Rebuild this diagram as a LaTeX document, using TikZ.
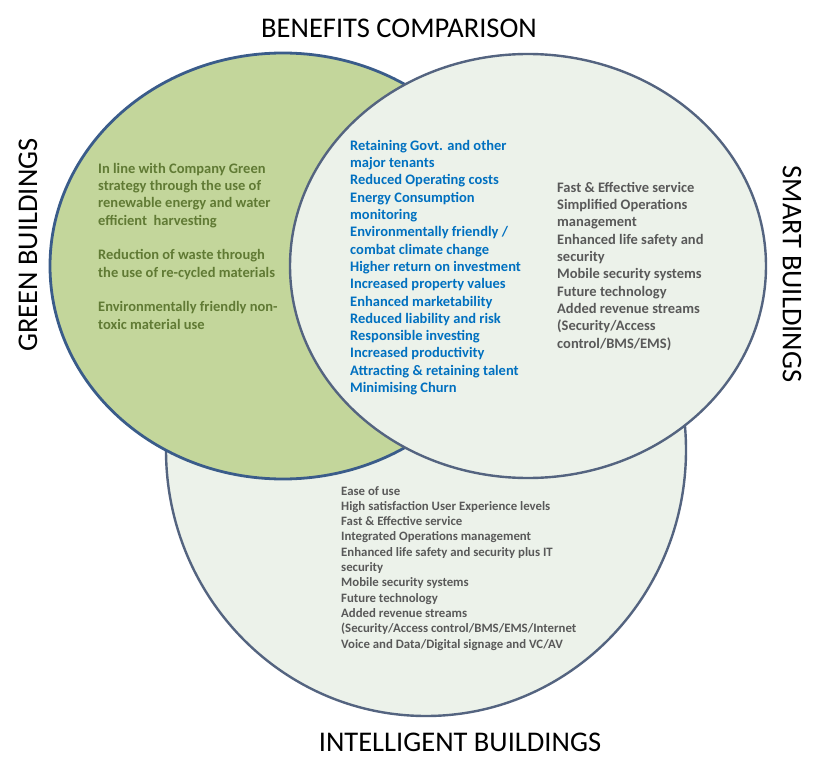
\documentclass[tikz,border=0pt]{standalone}
\usepackage{fontspec}
\setmainfont{Carlito}
\definecolor{greenfill}{RGB}{195,214,155}
\definecolor{palefill}{RGB}{236,242,234}
\definecolor{rimA}{RGB}{58,92,138}
\definecolor{rimB}{RGB}{84,100,128}
\definecolor{olivetext}{RGB}{96,122,52}
\definecolor{bluetext}{RGB}{0,112,192}
\definecolor{greytext}{RGB}{89,89,89}
\tikzset{
  title/.style={font=\fontsize{28.5}{31}\selectfont, text=black, inner sep=0pt},
  bodytext/.style={font=\fontsize{14.5}{17.3}\selectfont\bfseries, align=left, anchor=north west, inner sep=0pt},
  smalltext/.style={font=\fontsize{12.8}{15.3}\selectfont\bfseries, align=left, anchor=north west, inner sep=0pt},
}
\begin{document}
\begin{tikzpicture}[x=1pt,y=-1pt]
\useasboundingbox[fill=white] (0,0) rectangle (820,776);
% intelligent buildings (bottom)
\draw[fill=palefill, draw=rimB, line width=2.4pt] (426,450) ellipse [x radius=260, y radius=266];
% green buildings
\draw[fill=greenfill, draw=rimA, line width=2.8pt] (283,266) ellipse [x radius=233, y radius=213];
% smart buildings
\draw[fill=palefill, draw=rimB, line width=2.4pt] (528,266) ellipse [x radius=238, y radius=212];

\node[title] (t1) at (399,28) {BENEFITS COMPARISON};
\node[title] (t2) at (460,742) {INTELLIGENT BUILDINGS};
\node[title, rotate=90] (t3) at (28,245) {GREEN BUILDINGS};
\node[title, rotate=-90] (t4) at (792,274) {SMART BUILDINGS};

\node[bodytext, text=olivetext] (g) at (98,163) {In line with Company Green\\
strategy through the use of\\
renewable energy and water\\
efficient\ \ harvesting\\[17.3pt]
Reduction of waste through\\
the use of re-cycled materials\\[17.3pt]
Environmentally friendly non-\\
toxic material use};

\node[bodytext, text=bluetext] (b) at (350,140) {Retaining Govt. and other\\
major tenants\\
Reduced Operating costs\\
Energy Consumption\\
monitoring\\
Environmentally friendly /\\
combat climate change\\
Higher return on investment\\
Increased property values\\
Enhanced marketability\\
Reduced liability and risk\\
Responsible investing\\
Increased productivity\\
Attracting \& retaining talent\\
Minimising Churn};

\node[bodytext, text=greytext] (s) at (557,182) {Fast \& Effective service\\
Simplified Operations\\
management\\
Enhanced life safety and\\
security\\
Mobile security systems\\
Future technology\\
Added revenue streams\\
(Security/Access\\
control/BMS/EMS)};

\node[smalltext, text=greytext] (i) at (341,486) {Ease of use\\
High satisfaction User Experience levels\\
Fast \& Effective service\\
Integrated Operations management\\
Enhanced life safety and security plus IT\\
security\\
Mobile security systems\\
Future technology\\
Added revenue streams\\
(Security/Access control/BMS/EMS/Internet\\
Voice and Data/Digital signage and VC/AV};
\end{tikzpicture}
\end{document}
